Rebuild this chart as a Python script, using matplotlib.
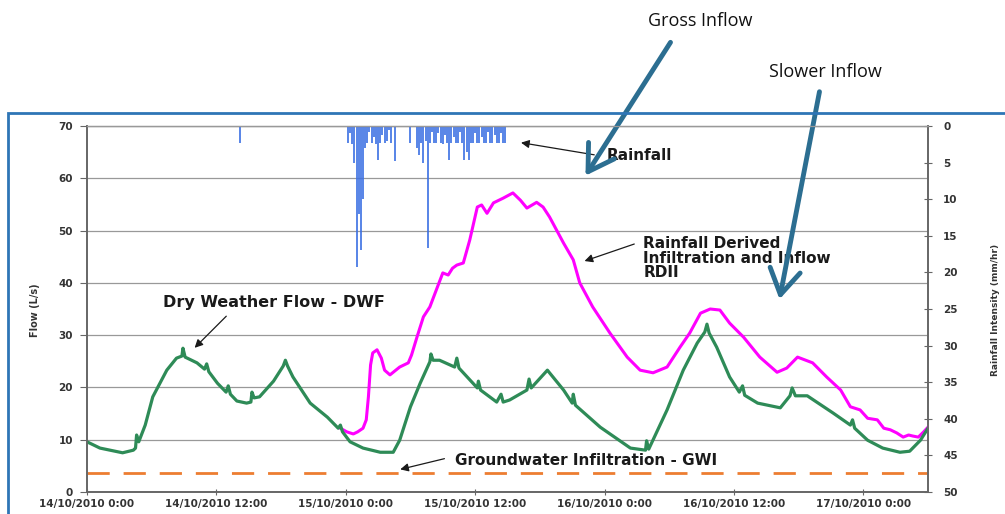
import matplotlib
matplotlib.use('Agg')
import matplotlib.pyplot as plt
from matplotlib.patches import Rectangle

# hours since 14/10/2010 0:00
dwf_t = [0, 1.2, 3.3, 4.3, 4.5, 4.6, 4.8, 5.4, 6.1, 7.4, 8.3, 8.8, 8.9, 9.1, 10.2, 10.9, 11.1, 11.3,
         12.1, 12.9, 13.1, 13.3, 13.9, 14.8, 15.2, 15.3, 15.5, 16.0, 17.3, 18.2, 18.4, 18.6, 19.1,
         20.7, 22.3, 23.3, 23.5, 23.7, 24.4, 25.6, 27.2, 28.4, 29.0, 30.0, 30.9, 31.8, 31.9, 32.1,
         32.7, 34.1, 34.3, 34.5, 36.2, 36.3, 36.5, 38.0, 38.4, 38.6, 39.2, 40.8, 41.0, 41.2, 42.7,
         44.2, 45.0, 45.1, 45.3, 47.6, 50.4, 51.8, 51.9, 52.1, 53.8, 55.3, 56.6, 57.3, 57.5, 57.7,
         58.4, 59.6, 60.5, 60.8, 61.0, 62.2, 64.3, 65.2, 65.4, 65.7, 66.8, 69.2, 70.8, 71.0, 71.2,
         72.4, 73.8, 75.4, 76.3, 77.3, 78.0]
dwf_q = [9.6, 8.4, 7.5, 8.0, 8.4, 10.9, 9.6, 12.8, 18.2, 23.3, 25.6, 26.0, 27.5, 25.8, 24.7, 23.5, 24.5, 23.0,
         20.8, 19.1, 20.3, 18.7, 17.4, 17.0, 17.2, 19.1, 18.0, 18.2, 21.2, 24.1, 25.2, 24.1, 22.0,
         17.0, 14.3, 12.2, 12.8, 11.5, 9.6, 8.4, 7.6, 7.6, 9.9, 16.3, 20.8, 24.9, 26.4, 25.2,
         25.2, 23.9, 25.6, 23.7, 19.9, 21.2, 19.5, 17.2, 18.7, 17.2, 17.6, 19.5, 21.6, 19.9, 23.3,
         19.5, 17.0, 18.7, 16.6, 12.4, 8.4, 8.0, 9.8, 8.2, 15.7, 23.3, 28.5, 30.6, 32.1, 30.4,
         27.7, 22.0, 19.1, 20.3, 18.5, 17.0, 16.1, 18.4, 19.9, 18.4, 18.4, 15.1, 12.8, 13.8, 12.2,
         9.9, 8.4, 7.6, 7.8, 9.9, 12.2]

rdii_t = [23.5, 24.1, 24.7, 25.1, 25.6, 25.9, 26.1, 26.3, 26.5, 26.9, 27.3, 27.6, 28.1, 29.0, 29.8,
          30.1, 30.6, 31.2, 31.8, 32.5, 33.0, 33.5, 33.9, 34.3, 34.9, 35.5, 36.2, 36.6, 37.1, 37.7,
          38.6, 39.5, 40.2, 40.8, 41.7, 42.3, 42.9, 44.2, 45.1, 45.7, 46.9, 48.5, 50.1, 51.3, 52.5,
          53.8, 55.0, 55.9, 56.9, 57.8, 58.7, 59.6, 60.9, 62.4, 64.0, 64.9, 65.9, 67.3, 68.6, 69.9,
          70.8, 71.7, 72.4, 73.3, 73.9, 74.5, 75.1, 75.7, 76.2, 76.6, 77.1, 77.6, 78.0]
rdii_q = [12.2, 11.5, 11.1, 11.5, 12.2, 13.8, 18.2, 24.3, 26.6, 27.2, 25.6, 23.3, 22.4, 23.9, 24.7,
          26.2, 29.6, 33.5, 35.4, 39.2, 41.9, 41.5, 42.8, 43.4, 43.8, 48.2, 54.5, 54.9, 53.3, 55.3,
          56.2, 57.2, 55.8, 54.3, 55.4, 54.5, 52.6, 47.6, 44.4, 40.0, 35.4, 30.4, 25.8, 23.3, 22.8,
          23.9, 27.7, 30.4, 34.2, 35.0, 34.8, 32.3, 29.6, 25.8, 22.9, 23.7, 25.8, 24.7, 22.0, 19.5,
          16.3, 15.7, 14.1, 13.8, 12.2, 11.9, 11.3, 10.5, 10.9, 10.7, 10.5, 11.5, 12.4]

gwi_t = [0, 78]
gwi_q = [3.7, 3.7]

# rainfall intensity (mm/hr), every 0.2 h from 24.2 h, plus one early shower
rain_start = 24.2
rain_step = 0.2
rain_v = [2.3, 1.0, 2.5, 5.0, 19.3, 12.0, 17.0, 10.0, 3.0, 2.3, 0.8, 2.3, 1.5, 2.5, 4.6, 2.3, 1.2, 2.3,
          2.0, 0.5, 2.3, 0, 4.8, 0, 0, 0, 0, 0, 0, 2.3, 0, 0, 3.0, 4.0, 2.3, 5.0, 2.0, 16.7, 2.3, 0.8,
          2.3, 2.3, 1.0, 2.3, 2.5, 1.2, 2.3, 4.6, 2.3, 1.5, 2.3, 2.3, 0.8, 2.3, 4.6, 3.5, 4.6, 2.3,
          2.3, 1.0, 2.3, 2.3, 1.5, 2.3, 2.3, 0.8, 2.3, 2.3, 1.2, 2.3, 2.3, 1.0, 2.3, 2.3]
rain_t = [rain_start + rain_step * i for i in range(len(rain_v))]
early_t = [14.2]
early_v = [2.3]

xticks = [0, 12, 24, 36, 48, 60, 72]
xlabels = ['14/10/2010 0:00', '14/10/2010 12:00', '15/10/2010 0:00', '15/10/2010 12:00',
           '16/10/2010 0:00', '16/10/2010 12:00', '17/10/2010 0:00']

plt.rcParams['font.family'] = ['DejaVu Sans']
fig = plt.figure(figsize=(10.05, 5.14), dpi=100)
ax = fig.add_axes([87/1005, 22/514, (928-87)/1005, (492-126)/514])
ax2 = ax.twinx()

tick_kw = dict(fontsize=7.5, fontweight='bold', color='#333333')

ax.plot(gwi_t, gwi_q, color='#ED7D31', lw=2, dashes=(8, 5))
ax.plot(rdii_t, rdii_q, color='#FF00FF', lw=2.2, zorder=3)
ax.plot(dwf_t, dwf_q, color='#2E8B57', lw=2.3, zorder=4)
ax.set_xlim(0, 78)
ax.set_ylim(0, 70)
ax.set_yticks(range(0, 71, 10))
ax.set_xticks(xticks)
ax.set_xticklabels(xlabels, **tick_kw)
ax.set_yticklabels([str(v) for v in range(0, 71, 10)], **tick_kw)
ax.grid(axis='y', color='#999999', lw=0.9)
ax.set_axisbelow(True)
ax.tick_params(axis='y', direction='out', length=5, color='#666666', pad=5)
ax.tick_params(axis='x', direction='inout', length=4, color='#666666', pad=3)

ax2.vlines(rain_t, 0, rain_v, color='#3B6FE3', lw=1.2)
ax2.vlines(early_t, 0, early_v, color='#3B6FE3', lw=1.2)
ax2.set_ylim(50, 0)
ax2.set_yticks(range(0, 51, 5))
ax2.set_yticklabels([str(v) for v in range(0, 51, 5)], **tick_kw)
ax2.tick_params(axis='y', direction='inout', length=6, color='#666666', pad=8)

for a in (ax, ax2):
    a.spines['top'].set_color('#999999')
    a.spines['top'].set_linewidth(0.9)
    for s in ('left', 'right', 'bottom'):
        a.spines[s].set_color('#666666')
        a.spines[s].set_linewidth(1.2)

ann_kw = dict(fontsize=11, fontweight='bold', color='#1a1a1a')
arr = dict(arrowstyle='-|>', color='#1a1a1a', lw=0.9, mutation_scale=12)

ax.text(7.05, 36.3, 'Dry Weather Flow - DWF', ha='left', va='center', fontsize=11.5,
        fontweight='bold', color='#1a1a1a')
ax.annotate('', xy=(9.8, 27.2), xytext=(13.1, 34.0), arrowprops=arr)

ax.text(48.2, 64.4, 'Rainfall', ha='left', va='center', **ann_kw)
ax.annotate('', xy=(40.0, 66.9), xytext=(47.3, 64.4), arrowprops=arr)

ax.text(51.6, 44.7, 'Rainfall Derived\nInfiltration and Inflow\nRDII', ha='left', va='center',
        linespacing=0.95, **ann_kw)
ax.annotate('', xy=(45.9, 44.0), xytext=(51.0, 47.6), arrowprops=arr)

ax.text(34.1, 6.1, 'Groundwater Infiltration - GWI', ha='left', va='center', **ann_kw)
ax.annotate('', xy=(28.8, 4.2), xytext=(33.4, 6.5), arrowprops=arr)

fig.text(35/1005, 1 - 310/514, 'Flow (L/s)', rotation=90, ha='center', va='center',
         fontsize=7, fontweight='bold', color='#333333')
fig.text(995/1005, 1 - 310/514, 'Rainfall Intensity (mm/hr)', rotation=90, ha='center', va='center',
         fontsize=6.5, fontweight='bold', color='#333333')

# blue frame around the chart
fig.patches.append(Rectangle((8/1005, -0.05), 1.1, 0.05 + 1 - 113/514, transform=fig.transFigure,
                             fill=False, edgecolor='#2E75B6', lw=2, zorder=0))

blue = '#2C6E91'
big = dict(arrowstyle='->, head_length=0.9, head_width=0.55', color=blue, lw=3.5, mutation_scale=20)
fig.text(700/1005, 1 - 21/514, 'Gross Inflow', ha='center', va='center', fontsize=13,
         family='Open Sans', color='#111111')
fig.text(825/1005, 1 - 72/514, 'Slower Inflow', ha='center', va='center', fontsize=13,
         family='Open Sans', color='#111111')
ax.annotate('', xy=(584/1005, 1 - 178/514), xytext=(672/1005, 1 - 40/514),
            xycoords='figure fraction', textcoords='figure fraction', arrowprops=big, zorder=10)
ax.annotate('', xy=(779/1005, 1 - 302/514), xytext=(820/1005, 1 - 89/514),
            xycoords='figure fraction', textcoords='figure fraction', arrowprops=big, zorder=10)

fig.savefig('out.png', dpi=100)
